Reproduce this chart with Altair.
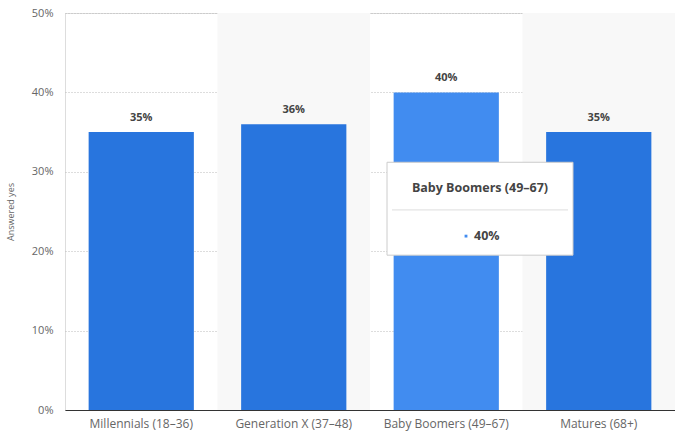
import altair as alt
import pandas as pd

categories = ["Millennials (18–36)", "Generation X (37–48)", "Baby Boomers (49–67)", "Matures (68+)"]
values = [35, 36, 40, 35]
highlight = [False, False, True, False]
shaded = [False, True, False, True]
y_ticks = [0, 10, 20, 30, 40, 50]

df = pd.DataFrame({"cat": categories, "val": values, "hl": highlight, "shade": shaded})
df["label"] = df["val"].astype(str) + "%"

FONT = "Open Sans"
W, H = 610, 397

ysc = alt.Scale(domain=[0, 50], nice=False)
xsc = alt.Scale(domain=categories, paddingInner=0.31, paddingOuter=0.155)

bg = alt.Chart(df[df["shade"]]).mark_rect(color="#f8f8f8").encode(
    x=alt.X("cat:N", scale=alt.Scale(domain=categories, paddingInner=0, paddingOuter=0), axis=None),
    y=alt.value(0),
    y2=alt.value(H),
)

bars = alt.Chart(df).mark_bar().encode(
    x=alt.X("cat:N", scale=xsc, sort=categories, title=None,
            axis=alt.Axis(labelAngle=0, labelFont=FONT, labelFontSize=12, labelColor="#666666",
                          labelPadding=8, ticks=False, domainColor="#333333", domainWidth=1,
                          grid=False)),
    y=alt.Y("val:Q", scale=ysc, title="Answered yes",
            axis=alt.Axis(values=y_ticks, labelExpr="datum.value + '%'", labelFont=FONT,
                          labelFontSize=11, labelColor="#666666", labelPadding=12,
                          ticks=False, domain=False, grid=True, gridColor="#bbbbbb",
                          gridDash=[1, 2], gridWidth=1, titleFont=FONT, titleFontSize=9,
                          titleColor="#666666", titleFontWeight="normal", titlePadding=16)),
    color=alt.condition("datum.hl", alt.value("#418cf0"), alt.value("#2875de")),
)

labels = alt.Chart(df).mark_text(baseline="bottom", dy=-9, font=FONT, fontSize=11,
                                 fontWeight="bold", color="#444444").encode(
    x=alt.X("cat:N", scale=xsc, sort=categories, axis=None),
    y=alt.Y("val:Q", scale=ysc),
    text="label:N",
)

tip = df[df["hl"]].copy()
tip["top"] = 31.2
tip["bot"] = 19.5
tip["sep"] = 25.2
tip["ty"] = 28.0
tip["vy"] = 21.9

box = alt.Chart(tip).mark_rect(fill="white", stroke="#cccccc", strokeWidth=1).encode(
    x=alt.value(322), x2=alt.value(508),
    y=alt.Y("top:Q", scale=ysc), y2="bot:Q",
)
sep = alt.Chart(tip).mark_rule(color="#dddddd").encode(
    x=alt.value(327), x2=alt.value(503),
    y=alt.Y("sep:Q", scale=ysc),
)
ttitle = alt.Chart(tip).mark_text(font=FONT, fontSize=12.5, fontWeight="bold", color="#444444").encode(
    x=alt.value(415), y=alt.Y("ty:Q", scale=ysc), text="cat:N",
)
tdot = alt.Chart(tip).mark_point(shape="square", filled=True, size=8, color="#418cf0", opacity=1).encode(
    x=alt.value(401), y=alt.Y("vy:Q", scale=ysc),
)
tval = alt.Chart(tip).mark_text(align="left", font=FONT, fontSize=12.5, fontWeight="bold", color="#444444").encode(
    x=alt.value(409), y=alt.Y("vy:Q", scale=ysc), text="label:N",
)

chart = alt.layer(bg, bars, labels, box, sep, ttitle, tdot, tval).resolve_scale(
    x="independent"
).properties(
    width=W, height=H,
    autosize=alt.AutoSizeParams(type="none"),
    padding={"left": 65, "top": 13, "right": 0, "bottom": 31},
).configure_view(stroke=None).configure(background="white")

chart.save("out.html", embed_options={"renderer": "svg", "actions": False})
